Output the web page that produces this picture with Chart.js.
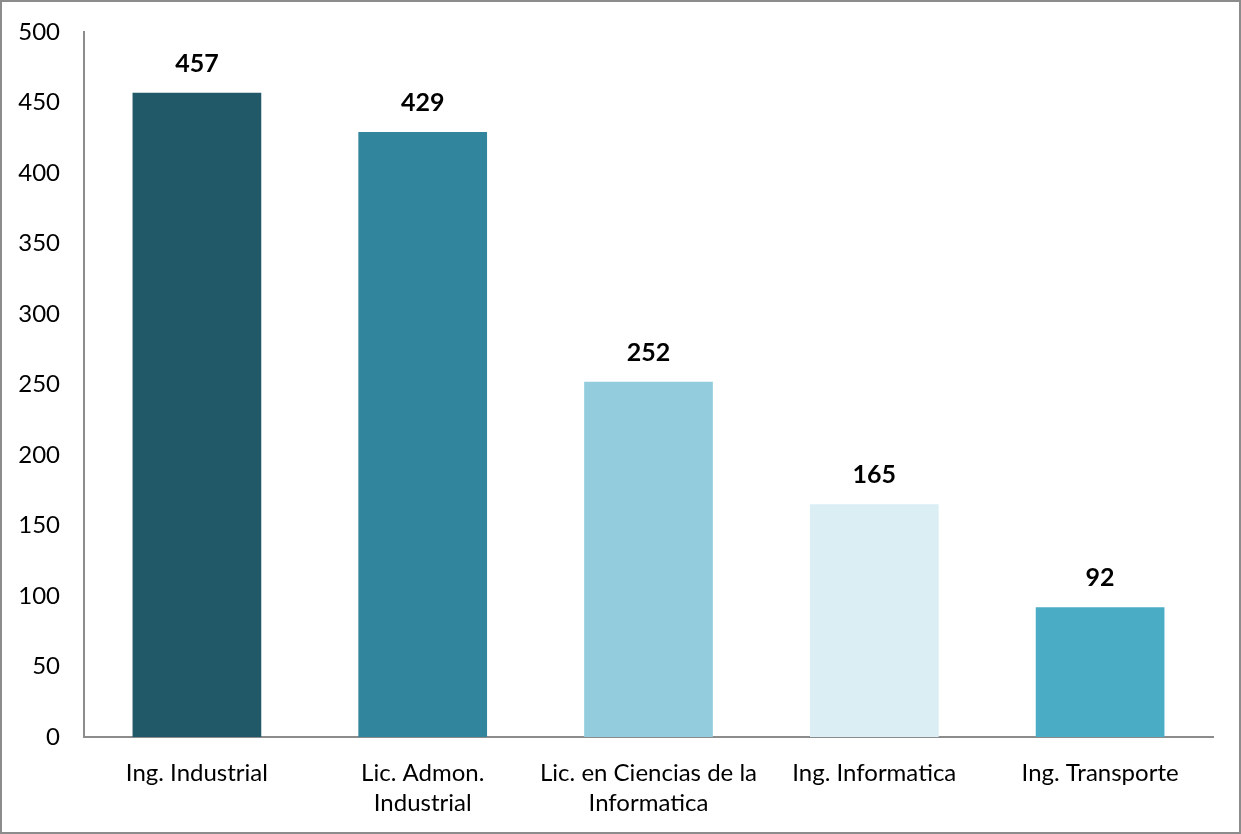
<!DOCTYPE html>
<html>
<head>
<meta charset="utf-8">
<script src="https://cdn.jsdelivr.net/npm/chart.js@4/dist/chart.umd.min.js"></script>
<style>
  html, body { margin: 0; padding: 0; background: #fff; }
  #wrap { position: relative; width: 1241px; height: 834px; }
  #frame { position: absolute; left: 0; top: 0; width: 1241px; height: 834px;
           box-sizing: border-box; border: 2px solid #8c8c8c; pointer-events: none; }
</style>
</head>
<body>
<div id="wrap">
  <canvas id="chart" width="1241" height="834"></canvas>
  <div id="frame"></div>
</div>
<script>
const categories = [
  "Ing. Industrial",
  ["Lic. Admon.", "Industrial"],
  ["Lic. en Ciencias de la", "Informatica"],
  "Ing. Informatica",
  "Ing. Transporte"
];
const values = [457, 429, 252, 165, 92];
const barColors = ["#215968", "#31859C", "#93CDDD", "#DAEEF3", "#4BACC6"];
const yTicks = [0, 50, 100, 150, 200, 250, 300, 350, 400, 450, 500];

const FONT = "Lato, 'Open Sans', sans-serif";

// Bold value above each bar
const valueLabels = {
  id: "valueLabels",
  afterDatasetsDraw(chart) {
    const ctx = chart.ctx;
    const meta = chart.getDatasetMeta(0);
    ctx.save();
    ctx.font = "bold 25px " + FONT;
    ctx.fillStyle = "#000";
    ctx.textAlign = "center";
    ctx.textBaseline = "middle";
    meta.data.forEach((bar, i) => {
      ctx.fillText(values[i], bar.x, bar.y - 29);
    });
    ctx.restore();
  }
};

new Chart(document.getElementById("chart"), {
  type: "bar",
  data: {
    labels: categories,
    datasets: [{
      data: values,
      backgroundColor: barColors,
      borderWidth: 0,
      categoryPercentage: 1,
      barPercentage: 0.57
    }]
  },
  options: {
    responsive: false,
    animation: false,
    layout: { padding: { top: 32, right: 28, left: 0, bottom: 0 } },
    plugins: { legend: { display: false }, tooltip: { enabled: false } },
    scales: {
      x: {
        grid: { display: false, drawTicks: false },
        border: { display: true, color: "#8c8c8c", width: 2 },
        ticks: {
          color: "#000",
          font: { family: FONT, size: 24, lineHeight: 1.25 },
          padding: 21,
          maxRotation: 0,
          autoSkip: false
        },
        afterFit(scale) { scale.height = 97; }
      },
      y: {
        min: 0,
        max: 500,
        afterBuildTicks(scale) { scale.ticks = yTicks.map(v => ({ value: v })); },
        grid: { display: false, drawTicks: false },
        border: { display: true, color: "#8c8c8c", width: 2 },
        ticks: {
          color: "#000",
          font: { family: FONT, size: 24 },
          padding: 24
        },
        afterFit(scale) {
          scale.width = 84;
          scale.paddingTop = 0;
          scale.paddingBottom = 0;
        }
      }
    }
  },
  plugins: [valueLabels]
});
</script>
</body>
</html>
